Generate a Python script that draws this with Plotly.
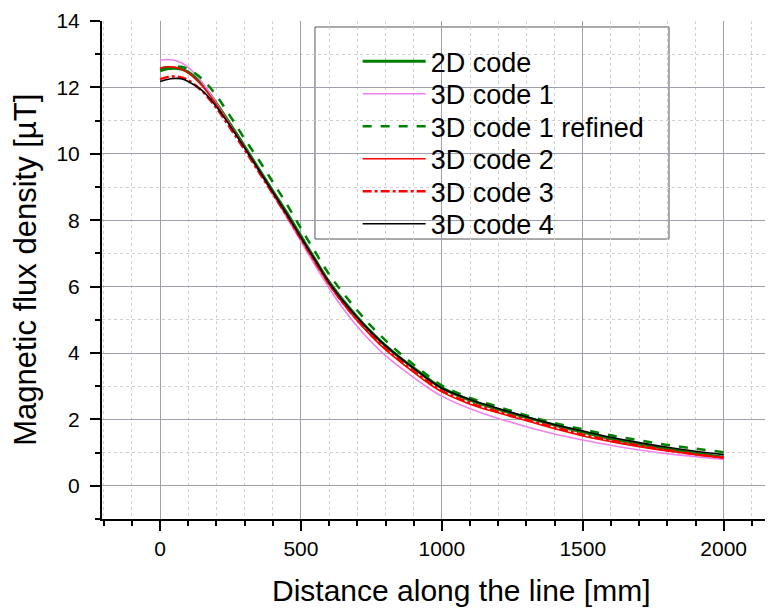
import plotly.graph_objects as go

# ---- data ----
x_mm = [0, 25, 50, 75, 100, 150, 200, 250, 300, 350, 400, 450, 500, 550, 600, 650,
        700, 750, 800, 850, 900, 950, 1000, 1100, 1200, 1300, 1400, 1500, 1600,
        1700, 1800, 1900, 2000]

code2d = [12.50, 12.56, 12.58, 12.55, 12.46, 12.08, 11.52, 10.88, 10.22, 9.55, 8.88,
          8.22, 7.52, 6.82, 6.14, 5.58, 5.08, 4.62, 4.22, 3.87, 3.55, 3.23, 2.95,
          2.58, 2.30, 2.06, 1.83, 1.62, 1.42, 1.26, 1.11, 0.98, 0.86]

code3d_1 = [12.82, 12.84, 12.82, 12.74, 12.60, 12.15, 11.52, 10.85, 10.17, 9.48, 8.78,
            8.08, 7.36, 6.64, 5.95, 5.33, 4.80, 4.33, 3.92, 3.58, 3.26, 2.96, 2.70,
            2.32, 2.03, 1.78, 1.56, 1.38, 1.22, 1.08, 0.97, 0.88, 0.79]

code3d_1_refined = [12.56, 12.61, 12.63, 12.62, 12.55, 12.25, 11.75, 11.12, 10.45,
                    9.82, 9.15, 8.48, 7.75, 7.05, 6.37, 5.80, 5.28, 4.80, 4.38, 4.00,
                    3.65, 3.32, 3.02, 2.65, 2.38, 2.12, 1.89, 1.70, 1.52, 1.37, 1.23,
                    1.12, 1.01]

code3d_2 = [12.58, 12.62, 12.61, 12.55, 12.44, 12.04, 11.48, 10.84, 10.18, 9.50, 8.82,
            8.14, 7.44, 6.74, 6.06, 5.48, 4.97, 4.51, 4.10, 3.75, 3.42, 3.10, 2.83,
            2.46, 2.20, 1.96, 1.72, 1.50, 1.33, 1.18, 1.05, 0.94, 0.84]

code3d_3 = [12.25, 12.31, 12.33, 12.30, 12.22, 11.88, 11.38, 10.76, 10.12, 9.46, 8.80,
            8.13, 7.44, 6.75, 6.08, 5.50, 4.99, 4.54, 4.13, 3.78, 3.45, 3.14, 2.86,
            2.50, 2.23, 1.99, 1.76, 1.54, 1.36, 1.21, 1.07, 0.95, 0.85]

code3d_4 = [12.18, 12.24, 12.27, 12.26, 12.18, 11.90, 11.42, 10.82, 10.18, 9.52, 8.85,
            8.18, 7.48, 6.80, 6.12, 5.56, 5.07, 4.62, 4.22, 3.87, 3.54, 3.22, 2.94,
            2.60, 2.33, 2.08, 1.84, 1.65, 1.46, 1.30, 1.16, 1.04, 0.94]

series_names = ["2D code", "3D code 1", "3D code 1 refined", "3D code 2",
                "3D code 3", "3D code 4"]
series_values = [code2d, code3d_1, code3d_1_refined, code3d_2, code3d_3, code3d_4]
series_colors = ["#008000", "#EE82EE", "#008000", "#FF0000", "#FF0000", "#000000"]
series_widths = [3, 1.6, 2.5, 1.6, 2.5, 1.6]
series_dashes = ["solid", "solid", "dash", "solid", "dashdot", "solid"]

x_title = "Distance along the line [mm]"
y_title = "Magnetic flux density [\u00b5T]"

FONT = "Liberation Sans, Arial, sans-serif"

# page body has an 8px margin; plot area aimed at screen px left 102, top 21,
# bottom 519, right 773
PLOT_TOP, PLOT_BOTTOM = 21, 519

fig = go.Figure()
legend_ids = ["legend", "legend2", "legend3", "legend4", "legend5", "legend6"]
for name, vals, col, w, d, lg in zip(series_names, series_values, series_colors,
                                     series_widths, series_dashes, legend_ids):
    fig.add_trace(go.Scatter(x=x_mm, y=vals, mode="lines", name=name, legend=lg,
                             line=dict(color=col, width=w, dash=d, shape="spline",
                                       smoothing=1.0)))

axis_common = dict(
    showline=True, linecolor="black", linewidth=2, mirror=False,
    ticks="outside", ticklen=10, tickwidth=2, tickcolor="black",
    showgrid=True, gridcolor="#a0a0aa", gridwidth=1, zeroline=False,
    tickfont=dict(family=FONT, size=21, color="black"),
)

fig.update_xaxes(range=[-206, 2175], tickvals=[0, 500, 1000, 1500, 2000],
                 minor=dict(dtick=100, tick0=0, ticklen=5, tickwidth=2,
                            tickcolor="black", ticks="outside", showgrid=True,
                            gridcolor="#d0d0d0", griddash="dot", gridwidth=1),
                 **axis_common)
fig.update_yaxes(range=[-1, 14], tickvals=[0, 2, 4, 6, 8, 10, 12, 14],
                 ticklabelstandoff=6,
                 minor=dict(dtick=1, tick0=0, ticklen=5, tickwidth=2,
                            tickcolor="black", ticks="outside", showgrid=True,
                            gridcolor="#d0d0d0", griddash="dot", gridwidth=1),
                 **axis_common)

# legend entry centres (screen px)
entry_centres = [61.7, 94.2, 126.7, 159.2, 191.7, 224.2]
legend_layout = {}
for lg, cy in zip(legend_ids, entry_centres):
    legend_layout[lg] = dict(x=0.381, y=(PLOT_BOTTOM - cy) / (PLOT_BOTTOM - PLOT_TOP),
                             xanchor="left", yanchor="middle",
                             bgcolor="rgba(0,0,0,0)", borderwidth=0,
                             font=dict(family=FONT, size=27, color="black"),
                             itemwidth=63)

fig.update_layout(
    width=765, height=601,
    margin=dict(l=94, r=0, t=13, b=90, pad=0),
    paper_bgcolor="white", plot_bgcolor="white",
    font=dict(family=FONT, color="black"),
    showlegend=True,
    shapes=[dict(type="rect", xref="paper", yref="paper",
                 x0=0.3174, x1=0.845, y0=0.5622, y1=0.988,
                 line=dict(color="#555555", width=1), fillcolor="white",
                 layer="between")],
    annotations=[
        dict(text=x_title, xref="x", yref="paper", x=1071,
             y=(PLOT_BOTTOM - 590) / (PLOT_BOTTOM - PLOT_TOP),
             xanchor="center", yanchor="middle", showarrow=False,
             font=dict(family=FONT, size=30, color="black")),
        dict(text=y_title, xref="paper", yref="paper", x=-0.115, y=0.5,
             xanchor="center", yanchor="middle", showarrow=False, textangle=-90,
             font=dict(family=FONT, size=31, color="black")),
    ],
    **legend_layout,
)

fig.write_html("out.html")
